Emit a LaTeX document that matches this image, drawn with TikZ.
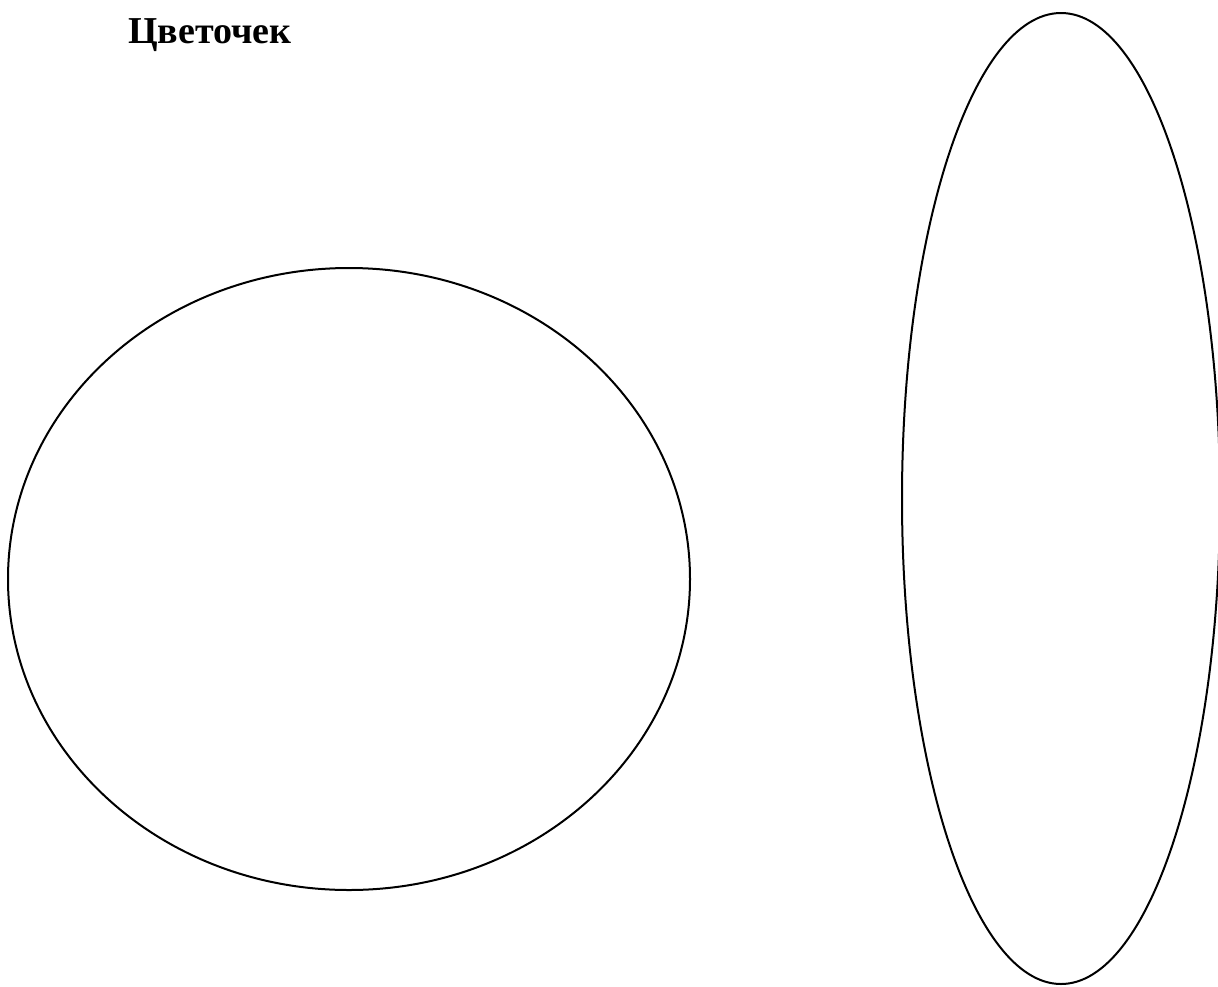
\documentclass[tikz,border=0pt]{standalone}
\usepackage{fontspec}
\setmainfont{Liberation Serif}
\tikzset{every node/.style={font=\fontsize{38}{42}\selectfont},
  outline/.style={draw=black,line width=2pt},
  heading/.style={font=\bfseries\fontsize{38}{42}\selectfont,anchor=base,inner sep=0pt}}

\begin{document}
\begin{tikzpicture}[x=1pt,y=1pt]
  \path[use as bounding box] (0,0) rectangle (1218,-986);
  \clip (0,0) rectangle (1218,-986);
  \node[heading] (title) at (210,-43) {Цветочек};
  % flower parts
  \draw[outline] (349,-579) ellipse [x radius=341,y radius=311];
  \draw[outline] (1061,-498.5) ellipse [x radius=159,y radius=485.5];
\end{tikzpicture}
\end{document}
